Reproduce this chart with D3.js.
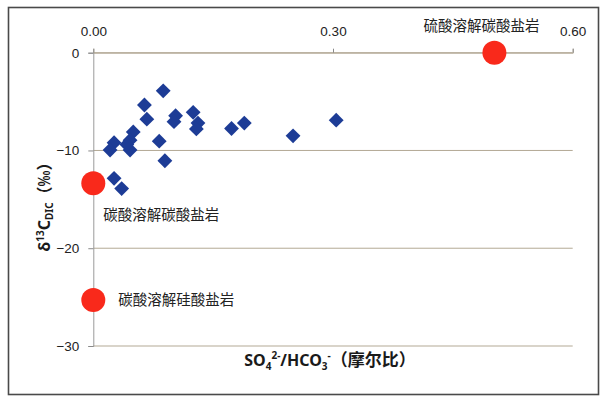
<!DOCTYPE html>
<html>
<head>
<meta charset="utf-8">
<script src="https://cdn.jsdelivr.net/npm/d3@7"></script>
<style>
  html, body { margin: 0; padding: 0; background: #fff; }
  svg { display: block; }
</style>
</head>
<body>
<svg id="chart" width="604" height="397"></svg>
<script>
// ---- data ----
const sampleRatio = [0.0875, 0.064, 0.067, 0.103, 0.101, 0.125, 0.131, 0.129, 0.050, 0.046, 0.026, 0.021, 0.046, 0.042, 0.0825, 0.0896, 0.026, 0.0355, 0.173, 0.189, 0.250, 0.304];
const sampleD13C  = [-3.9, -5.35, -6.8, -6.45, -7.05, -6.1, -7.2, -7.8, -8.1, -8.95, -9.2, -9.95, -9.95, -9.4, -9.05, -11.05, -12.85, -13.9, -7.75, -7.2, -8.5, -6.9];

const endRatio  = [0.502, 0.0, 0.0];
const endD13C   = [0.0, -13.35, -25.3];
const endLabels = ["硫酸溶解碳酸盐岩", "碳酸溶解碳酸盐岩", "碳酸溶解硅酸盐岩"];

const xTicks = [0, 0.3, 0.6];
const yTicks = [0, -10, -20, -30];

// ---- layout ----
const svg = d3.select("#chart");
const mLeft = 93.3, mRight = 572.7, mTop = 52.7, mBottom = 346;
const x = d3.scaleLinear().domain([0, 0.6]).range([mLeft, mRight]);
const y = d3.scaleLinear().domain([0, -30]).range([mTop, mBottom]);

const numFont = "'Liberation Sans Narrow', 'Liberation Sans', Arial, sans-serif";
const cjkFont = "'Noto Sans CJK SC', sans-serif";
const titleFont = "'Noto Sans', 'Noto Sans CJK SC', sans-serif";

// outer border
svg.append("rect")
  .attr("x", 8.5).attr("y", 7.5).attr("width", 590).attr("height", 387)
  .attr("fill", "#fff").attr("stroke", "#4a4a4a").attr("stroke-width", 1.6);

// horizontal grid lines
svg.append("g").selectAll("line").data(yTicks).join("line")
  .attr("x1", mLeft).attr("x2", mRight)
  .attr("y1", d => y(d)).attr("y2", d => y(d))
  .attr("stroke", "#b3a995").attr("stroke-width", 1);

// top axis
const gx = svg.append("g").attr("transform", `translate(0,${mTop})`)
  .call(d3.axisTop(x).tickValues(xTicks).tickFormat(d3.format(".2f")).tickSize(4).tickPadding(13));
gx.select(".domain").attr("stroke", "#b3a995");
gx.selectAll(".tick line").attr("stroke", "#8a8a8a");
gx.selectAll(".tick text").attr("font-family", numFont).attr("font-size", 13.5).attr("fill", "#222");

// left axis
const gy = svg.append("g").attr("transform", `translate(${mLeft},0)`)
  .call(d3.axisLeft(y).tickValues(yTicks).tickFormat(d3.format("d")).tickSize(5).tickPadding(9));
gy.select(".domain").attr("stroke", "#9a9a9a");
gy.selectAll(".tick line").attr("stroke", "#8a8a8a");
gy.selectAll(".tick text").attr("font-family", numFont).attr("font-size", 13.5).attr("fill", "#222");

// samples (diamonds)
const diamond = d3.symbol().type(d3.symbolSquare).size(110);
svg.append("g").selectAll("path").data(sampleRatio.map((r, i) => [r, sampleD13C[i]])).join("path")
  .attr("d", diamond)
  .attr("transform", d => `translate(${x(d[0])},${y(d[1])}) rotate(45)`)
  .attr("fill", "#1d3c96");

// end members (red circles)
const ends = endRatio.map((r, i) => ({ r, v: endD13C[i], label: endLabels[i] }));
svg.append("g").selectAll("circle").data(ends).join("circle")
  .attr("cx", d => x(d.r)).attr("cy", d => y(d.v)).attr("r", 12)
  .attr("fill", "#f9291b");

// end-member labels
const labelOffsets = [[-13, -27, "middle"], [10, 32, "start"], [25, 0, "start"]];
svg.append("g").selectAll("text").data(ends).join("text")
  .attr("x", (d, i) => x(d.r) + labelOffsets[i][0])
  .attr("y", (d, i) => y(d.v) + labelOffsets[i][1])
  .attr("dy", "0.35em")
  .attr("text-anchor", (d, i) => labelOffsets[i][2])
  .attr("font-family", cjkFont).attr("font-size", 14.5).attr("fill", "#222")
  .text(d => d.label);

// x axis title
const xt = svg.append("text")
  .attr("x", 330).attr("y", 366)
  .attr("text-anchor", "middle")
  .attr("font-family", titleFont).attr("font-weight", "bold")
  .attr("font-size", 16).attr("fill", "#1a1a1a");
xt.append("tspan").text("SO");
xt.append("tspan").attr("font-size", 10).attr("dy", 4).text("4");
xt.append("tspan").attr("font-size", 10).attr("dy", -11).text("2-");
xt.append("tspan").attr("dy", 7).text("/HCO");
xt.append("tspan").attr("font-size", 10).attr("dy", 4).text("3");
xt.append("tspan").attr("font-size", 10).attr("dy", -11).text("-");
xt.append("tspan").attr("dy", 7).attr("font-family", cjkFont).attr("font-size", 17).text("（摩尔比）");

// y axis title
const yt = svg.append("text")
  .attr("transform", "translate(50,203) rotate(-90)")
  .attr("text-anchor", "middle")
  .attr("font-family", titleFont).attr("font-weight", "bold")
  .attr("font-size", 16).attr("fill", "#1a1a1a");
yt.append("tspan").text("δ");
yt.append("tspan").attr("font-size", 10).attr("dy", -6).text("13");
yt.append("tspan").attr("dy", 6).text("C");
yt.append("tspan").attr("font-size", 10).attr("dy", 3).text("DIC");
yt.append("tspan").attr("dy", -3).attr("font-family", cjkFont).text("（‰）");
</script>
</body>
</html>
